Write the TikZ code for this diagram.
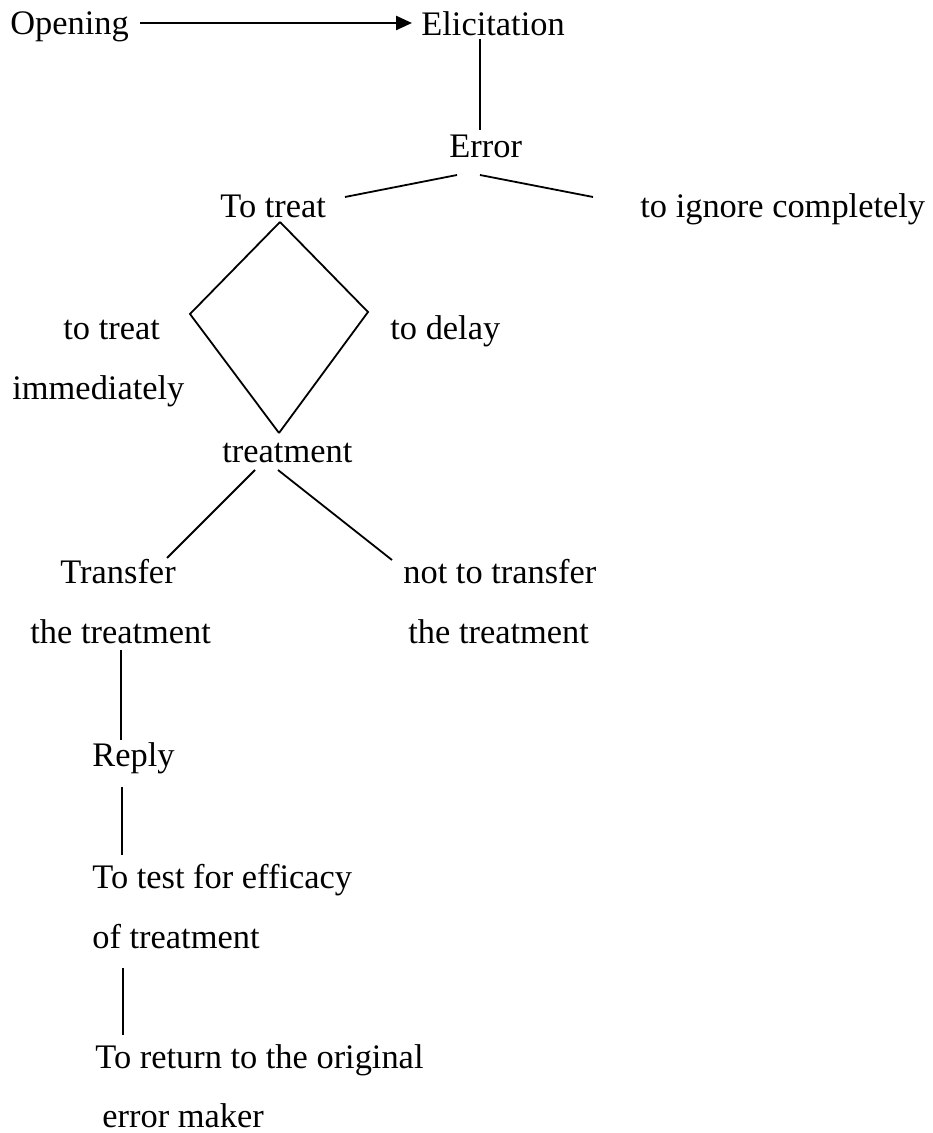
\documentclass[tikz,border=0pt]{standalone}
\usepackage{fontspec}
\setmainfont{Liberation Serif}
\usepackage{tikz}
\usetikzlibrary{arrows.meta,calc}
\tikzset{
  lbl/.style={anchor=base west, inner sep=0pt, font=\fontsize{17.2}{20}\selectfont},
  link/.style={line width=0.9pt, black},
  arr/.style={-{Triangle[length=8pt,width=7pt]}, line width=1.2pt, black},
}

\begin{document}
\begin{tikzpicture}[x=0.5pt, y=-0.5pt]
        \useasboundingbox (0,0) rectangle (932,1133);

        % Top row
        \node[lbl] (opening) at (10,35)  {Opening};
        \node[lbl] (elicit)  at (421,36) {Elicitation};
        \node[lbl] (error)   at (449,158) {Error};

        % Error branches
        \node[lbl] (totreat) at (220,218) {To treat};
        \node[lbl] (ignore)  at (640,218) {to ignore completely};

        % Diamond labels
        \node[lbl] (nowA)  at (63,340)  {to treat};
        \node[lbl] (nowB)  at (12,400)  {immediately};
        \node[lbl] (delay) at (390,340) {to delay};
        \node[lbl] (treatment) at (222,462) {treatment};

        % Transfer branches
        \node[lbl] (transA) at (60,583)  {Transfer};
        \node[lbl] (transB) at (30,643)  {the treatment};
        \node[lbl] (keepA)  at (403,583) {not to transfer};
        \node[lbl] (keepB)  at (408,643) {the treatment};

        % Chain below
        \node[lbl] (reply)   at (92,766)  {Reply};
        \node[lbl] (testA)   at (92,888)  {To test for efficacy};
        \node[lbl] (testB)   at (92,948)  {of treatment};
        \node[lbl] (returnA) at (95,1068) {To return to the original};
        \node[lbl] (returnB) at (102,1127) {error maker};

        % Diamond side corners
        \coordinate (nowv)   at (190,314);
        \coordinate (delayv) at (368,312);

        % Opening -> Elicitation
        \draw[arr] ($(opening.base west)+(130,-12)$) -- ($(elicit.base west)+(-9,-13)$);

        % Elicitation -- Error
        \draw[link] ($(elicit.base west)+(59,3)$) -- ($(error.base west)+(31,-28)$);

        % Error -- choices
        \draw[link] ($(error.base west)+(8,17)$) -- ($(totreat.base west)+(125,-21)$);
        \draw[link] ($(error.base west)+(31,17)$) -- ($(ignore.base west)+(-47,-21)$);

        % Diamond
        \draw[link] ($(totreat.base west)+(60,4)$) -- (nowv) -- ($(treatment.base west)+(57,-29)$);
        \draw[link] ($(totreat.base west)+(60,4)$) -- (delayv) -- ($(treatment.base west)+(57,-29)$);

        % treatment -- transfer choices
        \draw[link] ($(treatment.base west)+(33,8)$) -- ($(transA.base west)+(107,-25)$);
        \draw[link] ($(treatment.base west)+(56,8)$) -- ($(keepA.base west)+(-11,-23)$);

        % Chain
        \draw[link] ($(transB.base west)+(91,7)$) -- ($(reply.base west)+(29,-26)$);
        \draw[link] ($(reply.base west)+(30,21)$) -- ($(testA.base west)+(30,-33)$);
        \draw[link] ($(testB.base west)+(31,20)$) -- ($(returnA.base west)+(28,-33)$);
\end{tikzpicture}
\end{document}
